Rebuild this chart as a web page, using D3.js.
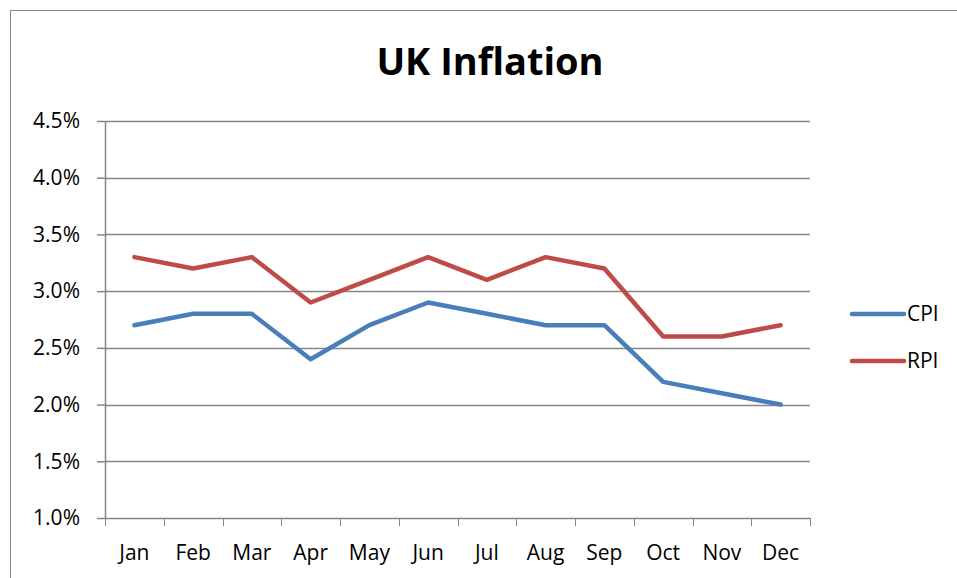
<!DOCTYPE html>
<html>
<head>
<meta charset="utf-8">
<script src="https://cdn.jsdelivr.net/npm/d3@7"></script>
<style>
  body { margin: 0; background: #fff; }
  text { font-family: "Open Sans", "Noto Sans", sans-serif; fill: #000; }
</style>
</head>
<body>
<div id="chart"></div>
<script>
const months = ["Jan", "Feb", "Mar", "Apr", "May", "Jun", "Jul", "Aug", "Sep", "Oct", "Nov", "Dec"];
const cpi = [2.7, 2.8, 2.8, 2.4, 2.7, 2.9, 2.8, 2.7, 2.7, 2.2, 2.1, 2.0];
const rpi = [3.3, 3.2, 3.3, 2.9, 3.1, 3.3, 3.1, 3.3, 3.2, 2.6, 2.6, 2.7];
const yTicks = [1.0, 1.5, 2.0, 2.5, 3.0, 3.5, 4.0, 4.5];
const seriesNames = ["CPI", "RPI"];
const colors = ["#4a7ebb", "#be4b48"];

const W = 957, H = 578;
const margin = {top: 121, left: 105},
      width = 810 - margin.left,
      height = 518 - margin.top;

const root = d3.select("#chart").append("svg")
    .attr("width", W)
    .attr("height", H);

// outer chart border
root.append("rect")
    .attr("x", 10.5).attr("y", 10.5)
    .attr("width", 960).attr("height", 600)
    .attr("fill", "none")
    .attr("stroke", "#888");

root.append("text")
    .attr("x", 490).attr("y", 75)
    .attr("text-anchor", "middle")
    .style("font-size", "38px")
    .style("font-weight", "bold")
    .text("UK Inflation");

const svg = root.append("g")
    .attr("transform", `translate(${margin.left},${margin.top})`);

const x = d3.scaleBand()
    .domain(months)
    .range([0, width]);

const y = d3.scaleLinear()
    .domain([1.0, 4.5])
    .range([height, 0]);

// gridlines
svg.append("g")
    .selectAll("line")
    .data(yTicks.filter(d => d > 1.0))
    .join("line")
    .attr("x1", 0).attr("x2", width)
    .attr("y1", d => Math.round(y(d)) + 0.5)
    .attr("y2", d => Math.round(y(d)) + 0.5)
    .attr("stroke", "#868686")
    .attr("stroke-width", 1.3);

const yAxis = svg.append("g")
    .call(d3.axisLeft(y).tickValues(yTicks).tickFormat(d => d.toFixed(1) + "%").tickSize(8).tickSizeOuter(0));
yAxis.selectAll("text").style("font-size", "21px").attr("x", -25);

const xAxis = svg.append("g")
    .attr("transform", `translate(0,${height})`)
    .call(d3.axisBottom(x).tickSize(0).tickSizeOuter(0));
xAxis.selectAll("text").style("font-size", "21px").attr("dy", "0").attr("y", 42);
// category boundary ticks
xAxis.selectAll(".bound")
    .data(d3.range(months.length + 1))
    .join("line")
    .attr("class", "bound")
    .attr("x1", i => Math.round(i * x.step()) + 0.5)
    .attr("x2", i => Math.round(i * x.step()) + 0.5)
    .attr("y1", 0).attr("y2", 8)
    .attr("stroke", "#868686");

root.selectAll(".domain, .tick line").attr("stroke", "#868686").attr("stroke-width", 1.5);

const line = d3.line()
    .x((d, i) => x(months[i]) + x.bandwidth() / 2)
    .y(d => y(d));

[cpi, rpi].forEach((s, k) => {
    svg.append("path")
        .datum(s)
        .attr("fill", "none")
        .attr("stroke", colors[k])
        .attr("stroke-width", 4.5)
        .attr("stroke-linejoin", "round")
        .attr("stroke-linecap", "round")
        .attr("d", line);
});

// legend
const legend = root.append("g");
seriesNames.forEach((n, k) => {
    const ly = 314 + k * 47;
    legend.append("line")
        .attr("x1", 852).attr("x2", 904)
        .attr("y1", ly).attr("y2", ly)
        .attr("stroke", colors[k])
        .attr("stroke-width", 4.5)
        .attr("stroke-linecap", "round");
    legend.append("text")
        .attr("x", 907).attr("y", ly + 7)
        .style("font-size", "21px")
        .text(n);
});
</script>
</body>
</html>
